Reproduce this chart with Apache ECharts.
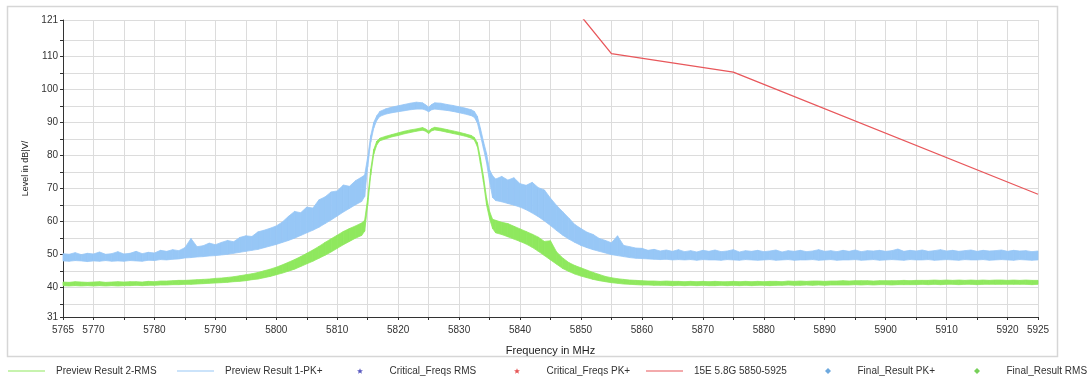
<!DOCTYPE html>
<html>
<head>
<meta charset="utf-8">
<script src="https://cdn.jsdelivr.net/npm/echarts@6/dist/echarts.min.js"></script>
<style>html,body{margin:0;padding:0;background:#fff}#c{width:1092px;height:391px}</style>
</head>
<body>
<div id="c"></div>
<script>
// Frequency grid (MHz)
const freq = [
5765,5766,5767,5768,5769,5770,5771,5772,5773,5774,5775,5776,5777,5778,5779,5780,5781,5782,5783,5784,
5785,5786,5787,5788,5789,5790,5791,5792,5793,5794,5795,5796,5797,5798,5799,5800,5801,5802,5803,5804,
5805,5806,5807,5808,5809,5810,5811,5812,5813,5814,5814.5,5815,5815.5,5816,5816.5,5817,
5818,5819,5820,5821,5822,5823,5824,5824.5,5825,5825.5,5826,5827,5828,5829,5830,5831,5832,
5832.5,5833,5833.5,5834,5834.5,5835,5835.5,
5836,5837,5838,5839,5840,5841,5842,5843,5844,5845,5846,5847,5848,5849,5850,5851,5852,5853,5854,5855,
5856,5857,5858,5859,5860,5861,5862,5863,5864,5865,5866,5867,5868,5869,5870,5871,5872,5873,5874,5875,
5876,5877,5878,5879,5880,5881,5882,5883,5884,5885,5886,5887,5888,5889,5890,5891,5892,5893,5894,5895,
5896,5897,5898,5899,5900,5901,5902,5903,5904,5905,5906,5907,5908,5909,5910,5911,5912,5913,5914,5915,
5916,5917,5918,5919,5920,5921,5922,5923,5924,5925
];
// Preview Result 1-PK+ : lower / upper edge of the noisy trace (dBuV/m)
const pkLow = [
48.0,47.9,48.1,48.0,47.8,48.0,47.9,48.1,47.9,48.0,47.9,48.1,48.0,47.9,48.2,48.1,48.4,48.3,48.5,48.6,
48.9,49.0,49.2,49.3,49.5,49.6,49.8,50.0,50.3,50.6,50.9,51.2,51.5,52.0,52.5,53.0,53.6,54.2,54.9,55.7,
56.5,57.3,58.2,59.3,60.4,61.6,62.8,63.9,65.0,66.0,67.5,76.5,84.0,88.3,90.6,91.8,
92.5,92.9,93.2,93.5,93.8,94.0,94.0,93.7,93.2,93.8,94.0,93.8,93.6,93.3,92.9,92.5,92.0,
91.5,89.8,86.0,82.0,77.8,72.0,67.2,
66.3,65.9,65.4,64.9,64.3,63.5,62.5,61.4,60.1,58.7,57.2,55.8,54.6,53.6,52.7,52.0,51.4,50.9,50.4,49.9,
49.6,49.3,49.0,48.8,48.7,48.6,48.5,48.4,48.5,48.3,48.4,48.3,48.4,48.2,48.4,48.3,48.3,48.2,48.4,48.3,
48.2,48.4,48.3,48.2,48.3,48.4,48.2,48.3,48.4,48.2,48.3,48.3,48.4,48.2,48.3,48.4,48.2,48.3,48.3,48.4,
48.2,48.3,48.4,48.2,48.3,48.4,48.3,48.2,48.4,48.3,48.3,48.4,48.2,48.3,48.4,48.3,48.2,48.4,48.3,48.3,
48.4,48.2,48.3,48.4,48.3,48.2,48.4,48.3,48.2,48.3
];
const pkHigh = [
50.2,50.0,50.5,49.9,50.3,50.1,50.7,50.0,50.2,50.8,50.1,50.3,50.9,50.2,50.6,50.4,51.2,50.9,51.4,51.1,
52.0,54.8,52.3,52.6,53.4,52.9,53.6,54.2,53.8,55.1,55.6,55.4,56.8,57.3,57.9,58.6,59.8,61.5,63.0,62.6,
64.3,64.0,66.5,67.4,68.9,69.2,71.0,70.6,72.3,73.4,74.0,79.5,86.0,90.0,92.0,93.3,
94.1,94.6,95.0,95.4,95.8,96.1,95.9,95.3,94.6,95.4,95.9,95.8,95.4,95.1,94.7,94.3,93.8,
93.3,91.8,88.2,84.2,80.6,75.6,73.8,
72.8,73.6,72.5,73.2,71.4,70.9,71.8,70.2,69.5,67.0,64.8,62.9,61.0,59.0,57.8,56.7,56.0,54.8,54.2,53.5,
55.6,52.7,52.3,51.9,51.8,51.2,51.5,51.0,51.3,50.9,51.4,50.8,51.1,50.7,51.2,50.9,51.3,50.8,51.0,51.4,
50.7,51.1,50.9,51.2,50.8,51.0,51.3,50.7,51.1,50.9,51.2,50.8,51.0,51.4,50.9,51.1,50.8,51.2,50.9,51.3,
50.8,51.1,51.0,51.2,50.9,51.1,51.6,50.9,51.2,51.0,51.3,50.9,51.1,51.4,51.0,51.2,50.9,51.1,51.3,50.9,
51.2,51.0,51.1,51.3,50.9,51.2,51.0,51.1,50.8,51.0
];
// Preview Result 2-RMS : lower / upper edge (dBuV/m)
const rmsLow = [
40.5,40.4,40.5,40.4,40.5,40.4,40.5,40.4,40.5,40.4,40.5,40.5,40.6,40.5,40.6,40.6,40.7,40.7,40.8,40.8,
40.9,40.9,41.0,41.1,41.2,41.3,41.4,41.5,41.7,41.8,42.0,42.3,42.5,42.9,43.3,43.8,44.3,44.9,45.5,46.3,
47.1,47.9,48.8,49.7,50.7,51.8,52.9,53.9,54.9,55.7,57.0,65.0,74.0,80.4,83.2,84.4,
85.0,85.6,86.0,86.5,86.9,87.3,87.6,87.3,86.6,87.4,87.7,87.4,87.0,86.6,86.2,85.8,85.2,
84.6,82.6,77.5,71.8,65.0,60.8,57.8,
56.5,56.0,55.3,54.6,53.9,53.1,52.1,50.9,49.6,48.3,47.0,45.7,44.8,44.0,43.4,42.9,42.4,42.0,41.7,41.4,
41.2,41.0,40.9,40.8,40.7,40.7,40.6,40.6,40.6,40.5,40.6,40.5,40.6,40.5,40.6,40.5,40.5,40.6,40.5,40.6,
40.5,40.6,40.5,40.6,40.6,40.5,40.6,40.6,40.7,40.6,40.6,40.7,40.6,40.7,40.6,40.7,40.7,40.7,40.7,40.8,
40.7,40.8,40.7,40.8,40.8,40.7,40.8,40.8,40.8,40.8,40.9,40.8,40.9,40.8,40.9,40.9,40.8,40.9,40.9,40.8,
40.9,40.9,40.9,40.9,40.9,40.9,40.9,40.9,40.8,40.9
];
const rmsHigh = [
41.6,41.5,41.7,41.6,41.5,41.6,41.7,41.5,41.6,41.7,41.6,41.7,41.7,41.6,41.8,41.7,41.9,41.9,42.0,42.1,
42.1,42.2,42.3,42.4,42.5,42.7,42.8,43.0,43.2,43.5,43.8,44.1,44.5,45.0,45.5,46.1,46.8,47.6,48.4,49.3,
50.3,51.3,52.4,53.6,54.7,55.8,56.9,57.8,58.6,59.5,60.3,67.0,75.8,81.8,84.3,85.2,
85.8,86.3,86.8,87.3,87.7,88.0,88.4,88.0,87.4,88.1,88.5,88.2,87.8,87.4,87.0,86.5,86.0,
85.4,83.8,79.2,73.6,67.2,63.0,60.6,
60.3,59.7,59.3,58.5,57.7,56.9,56.1,55.2,53.9,54.1,50.7,48.9,47.5,46.6,45.9,45.2,44.5,43.9,43.3,42.9,
42.6,42.4,42.2,42.1,42.0,41.9,41.9,41.8,41.9,41.8,41.8,41.7,41.8,41.7,41.8,41.7,41.8,41.7,41.7,41.8,
41.7,41.8,41.7,41.8,41.7,41.8,41.8,41.7,41.9,41.8,41.9,41.8,41.9,41.9,41.8,41.9,41.9,42.0,41.9,42.0,
42.0,42.0,41.9,42.0,42.0,42.0,42.0,42.1,42.0,42.1,42.1,42.1,42.2,42.1,42.2,42.1,42.2,42.1,42.2,42.1,
42.2,42.1,42.2,42.2,42.1,42.2,42.1,42.2,42.1,42.1
];
// 15E 5.8G 5850-5925 limit line
const limitFreq = [5850, 5855, 5875, 5925];
const limitLevel = [122.2, 110.8, 105.2, 68.2];
// Axis tick labels
const xLabelValues = [5765,5770,5780,5790,5800,5810,5820,5830,5840,5850,5860,5870,5880,5890,5900,5910,5920,5925];
const yLabelValues = [31,40,50,60,70,80,90,100,110,121];
const yTickValues = [31,35,40,45,50,55,60,65,70,75,80,85,90,95,100,105,110,115,121];
const legendNames = ['Preview Result 2-RMS','Preview Result 1-PK+','Critical_Freqs RMS','Critical_Freqs PK+','15E 5.8G 5850-5925','Final_Result PK+','Final_Result RMS'];

const BLUE = '#97c7f6', GREEN = '#8fe85e', RED = '#e8575b';
const FONT = 'Liberation Sans, Arial, sans-serif';
const ICON_LINE = 'path://M0,0L37,0L37,1L0,1Z';
const ICON_STAR = 'path://M0,3L0,3M37,3L37,3M18.5,0.4L19.3,2.4L21.4,2.4L19.8,3.7L20.4,5.7L18.5,4.5L16.6,5.7L17.2,3.7L15.6,2.4L17.7,2.4Z';
const ICON_DIAMOND = 'path://M0,3L0,3M37,3L37,3M18.5,0L21.5,3L18.5,6L15.5,3Z';

function bandSeries(name, low, high, color, z) {
  return {
    name: name, type: 'custom', z: z,
    itemStyle: {color: color},
    data: freq.map((f, i) => [f, low[i], high[i]]),
    renderItem: function (params, api) {
      const i = params.dataIndex;
      if (i >= freq.length - 1) return null;
      const a = api.coord([freq[i], low[i]]);
      const b = api.coord([freq[i + 1], low[i + 1]]);
      const c = api.coord([freq[i + 1], high[i + 1]]);
      const d = api.coord([freq[i], high[i]]);
      return {
        type: 'polygon',
        shape: {points: [a, b, c, d]},
        style: {fill: color, stroke: color, lineWidth: 0.8}
      };
    }
  };
}

const limitData = limitFreq.map((f, i) => [f, limitLevel[i]]);
const legendLeft = [8, 177, 341.5, 498.5, 646, 809.5, 958.5];
const legendIcons = [ICON_LINE, ICON_LINE, ICON_STAR, ICON_STAR, ICON_LINE, ICON_DIAMOND, ICON_DIAMOND];

const chart = echarts.init(document.getElementById('c'), null, {renderer: 'canvas'});
chart.setOption({
  animation: false,
  backgroundColor: '#fff',
  textStyle: {fontFamily: FONT},
  graphic: [{
    type: 'rect', z: -10, silent: true,
    shape: {x: 7.5, y: 6.5, width: 1050, height: 350},
    style: {fill: 'none', stroke: '#d6d6d6', lineWidth: 1.5}
  }],
  grid: {left: 63, top: 20, right: 54, bottom: 74},
  legend: legendNames.map((n, k) => ({
    left: legendLeft[k], top: 366, padding: 0,
    itemWidth: 37, itemHeight: 6, itemGap: 0,
    textStyle: {fontSize: 10, color: '#333', fontFamily: FONT, padding: [0, 0, 0, 6]},
    data: [{name: n, icon: legendIcons[k]}]
  })),
  xAxis: {
    type: 'value', min: 5765, max: 5925, interval: 5,
    name: 'Frequency in MHz', nameLocation: 'middle', nameGap: 28,
    nameTextStyle: {fontSize: 11, color: '#222'},
    axisLine: {lineStyle: {color: '#333', width: 1}},
    axisTick: {show: true, length: 3, lineStyle: {color: '#333'}},
    axisLabel: {
      fontSize: 10, color: '#333', margin: 8, showMinLabel: true, showMaxLabel: true,
      formatter: v => xLabelValues.indexOf(v) >= 0 ? String(v) : ''
    },
    splitLine: {show: true, lineStyle: {color: '#dcdcdc', width: 1}}
  },
  yAxis: {
    type: 'value', min: 31, max: 121,
    name: 'Level in dB|V/', nameLocation: 'middle', nameGap: 23, nameRotate: 90,
    nameTextStyle: {fontSize: 9, color: '#222'},
    axisLine: {show: true, lineStyle: {color: '#333', width: 1}},
    axisTick: {show: true, length: 3, customValues: yTickValues, lineStyle: {color: '#333'}},
    axisLabel: {fontSize: 10, color: '#333', margin: 5, customValues: yLabelValues},
    splitLine: {show: true, lineStyle: {color: '#dcdcdc', width: 1}}
  },
  series: [
    bandSeries('Preview Result 1-PK+', pkLow, pkHigh, BLUE, 2),
    bandSeries('Preview Result 2-RMS', rmsLow, rmsHigh, GREEN, 3),
    {name: 'Critical_Freqs RMS', type: 'scatter', data: [], itemStyle: {color: '#2f2fb0'}},
    {name: 'Critical_Freqs PK+', type: 'scatter', data: [], itemStyle: {color: '#e02a2a'}},
    {name: '15E 5.8G 5850-5925', type: 'line', data: limitData, symbol: 'none',
     lineStyle: {color: RED, width: 1.3}, itemStyle: {color: RED}, z: 4},
    {name: 'Final_Result PK+', type: 'scatter', data: [], itemStyle: {color: '#4a93d6'}},
    {name: 'Final_Result RMS', type: 'scatter', data: [], itemStyle: {color: '#55c430'}}
  ]
});
</script>
</body>
</html>
